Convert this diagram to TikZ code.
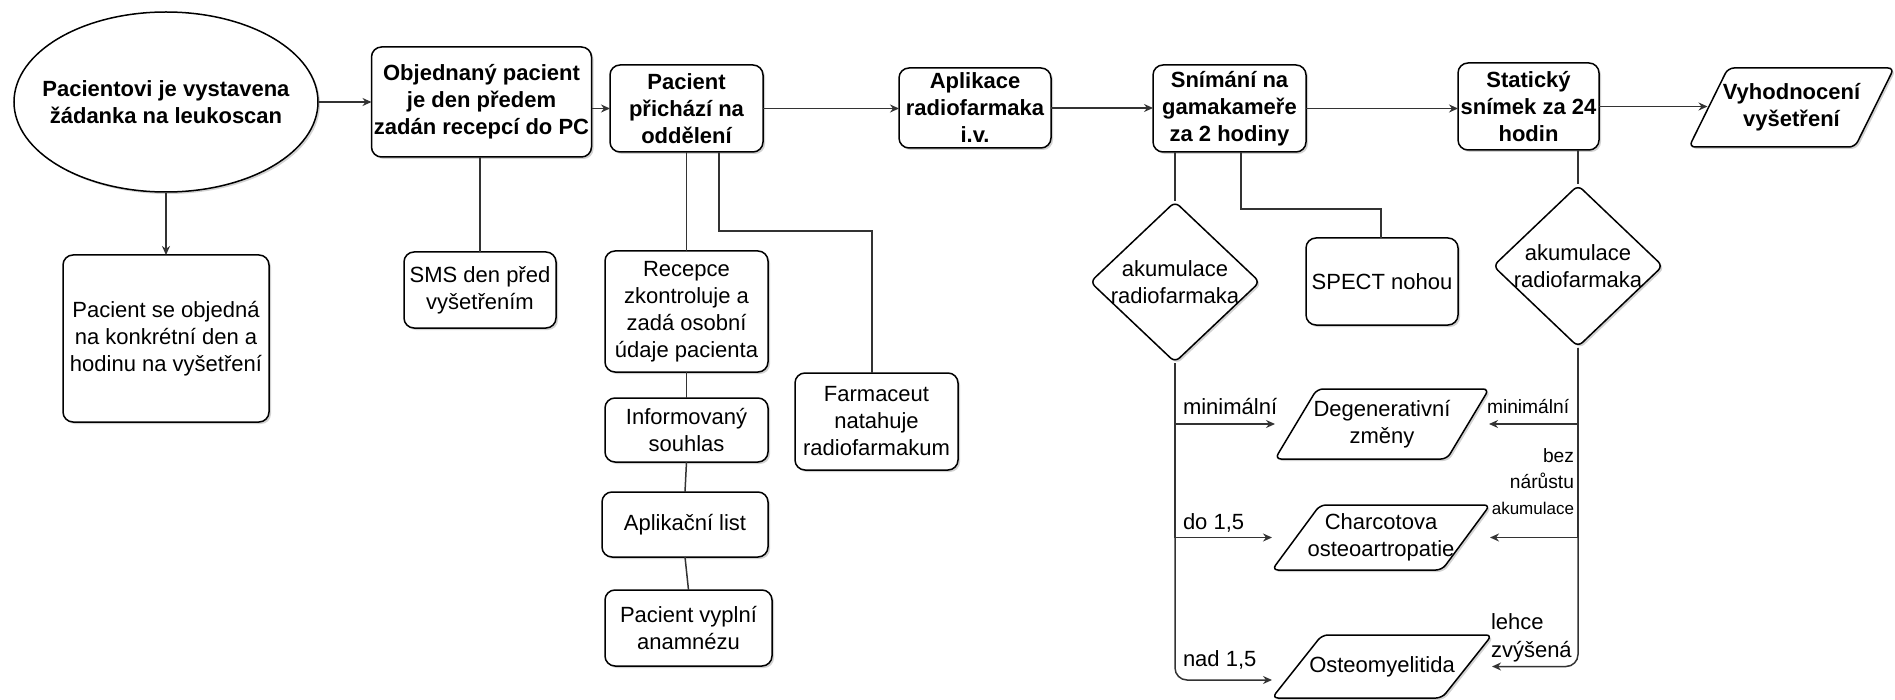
\documentclass[tikz,border=0pt]{standalone}
\usepackage{fontspec}
\setmainfont{Liberation Sans}
\usetikzlibrary{arrows.meta,calc,shadows,shapes.geometric}
\tikzset{
  wh/.style 2 args={minimum width=#1*0.5pt, minimum height=#2*0.5pt},
}
\begin{document}
\begin{tikzpicture}[x=0.5pt,y=-0.5pt,
  txt/.style={font=\fontsize{11}{13.5}\selectfont, align=center, inner sep=0pt, outer sep=0pt},
  bold/.style={txt, font=\fontsize{11}{13.5}\selectfont\bfseries},
  dshadow/.style={drop shadow={shadow xshift=1pt, shadow yshift=-1pt, opacity=0.25, fill=black!70}},
  box/.style={txt, draw=black, line width=0.75pt, fill=white, rounded corners=5pt, dshadow},
  bbox/.style={box, font=\fontsize{11}{13.5}\selectfont\bfseries},
  shp/.style={draw=black, line width=0.75pt, fill=white, rounded corners=3pt, dshadow},
  con/.style={draw=black!80, line width=0.75pt},
  arr/.style={con, -{Stealth[length=4.5pt, width=4pt]}}
]
\useasboundingbox (0,0) rectangle (1895,700);

% top row
\node[ellipse, shp, wh={304}{180}, inner sep=0pt,
  label={[bold]center:Pacientovi je vystavena\\žádanka na leukoscan}] (ell) at (166,102) {};
\node[bbox, wh={220}{110}] (obj) at (481.5,102) {Objednaný pacient\\je den předem\\zadán recepcí do PC};
\node[bbox, wh={153}{87}] (pac) at (686.5,108.5) {Pacient\\přichází na\\oddělení};
\node[bbox, wh={152}{80}] (apl) at (975,108) {Aplikace\\radiofarmaka\\i.v.};
\node[bbox, wh={153}{87}] (sni) at (1229.5,108.5) {Snímání na\\gamakameře\\za 2 hodiny};
\node[bbox, wh={141}{87}] (sta) at (1528.5,106.5) {Statický\\snímek za 24\\hodin};
\path[shp] (1689,147) -- (1728,68) -- (1894,68) -- (1855,147) -- cycle;
\node[bold, wh={206}{79}] (vyh) at (1791.5,107.5) {Vyhodnocení\\vyšetření};

% lower boxes
\node[box, wh={206}{167}] (pso) at (166,338.5) {Pacient se objedná\\na konkrétní den a\\hodinu na vyšetření};
\node[box, wh={152}{76}] (sms) at (480,290) {SMS den před\\vyšetřením};
\node[box, wh={163}{121}] (rec) at (686.5,311.5) {Recepce\\zkontroluje a\\zadá osobní\\údaje pacienta};
\node[box, wh={163}{64}] (inf) at (686.5,430) {Informovaný\\souhlas};
\node[box, wh={166}{65}] (apll) at (685,524.5) {Aplikační list};
\node[box, wh={167}{76}] (vyp) at (688.5,628) {Pacient vyplní\\anamnézu};
\node[box, wh={163}{97}] (far) at (876.5,421.5) {Farmaceut\\natahuje\\radiofarmakum};
\node[box, wh={152}{87}] (spe) at (1382,281.5) {SPECT nohou};

% decisions
\node[diamond, shp, wh={170}{161}, inner sep=0pt,
  label={[txt]center:akumulace\\radiofarmaka}] (dia1) at (1175,282) {};
\node[diamond, shp, wh={170}{162}, inner sep=0pt,
  label={[txt]center:akumulace\\radiofarmaka}] (dia2) at (1578,266) {};

% results
\path[shp] (1275,459) -- (1317,389) -- (1489,389) -- (1447,459) -- cycle;
\node[txt, wh={214}{70}] (deg) at (1382,424) {Degenerativní\\změny};
\path[shp] (1272,570) -- (1320,505) -- (1490,505) -- (1442,570) -- cycle;
\node[txt, wh={218}{65}] (cha) at (1381,537.5) {Charcotova\\osteoartropatie};
\path[shp] (1272,698) -- (1322,635) -- (1492,635) -- (1442,698) -- cycle;
\node[txt, wh={220}{63}] (ost) at (1382,666.5) {Osteomyelitida};

% connectors
\draw[arr] (ell.east) -- (obj.west);
\draw[arr] (ell.south) -- (pso.north);
\draw[con] (sms.north |- obj.south) -- (sms.north);
\draw[arr] (obj.east |- pac.west) -- (pac.west);
\draw[arr] (pac.east) -- (pac.east -| apl.west);
\draw[arr] (apl.east) -- (apl.east -| sni.west);
\draw[arr] (sni.east) -- (sni.east -| sta.west);
\draw[arr] (sta.east) -- ($(sta.east -| vyh.west)+(19,0)$);
\draw[con] (pac.south) -- (rec.north);
\draw[con] (rec.south) -- (inf.north);
\draw[con] (inf.south) -- (apll.north);
\draw[con] (apll.south) -- (vyp.north);
\coordinate (fk) at (872,231);
\draw[con] ($(pac.south)+(32.5,0)$) |- (fk) -- (fk |- far.north);
\draw[con] (sni.south -| dia1.north) -- (dia1.north);
\coordinate (sk) at (1381,209);
\draw[con] ($(sni.south)+(11.5,0)$) |- (sk) -- (sk |- spe.north);
\draw[con] (sta.south -| dia2.north) -- (dia2.north);
\draw[arr] (dia1.south) |- (deg.west);
\draw[arr] (dia1.south) |- (cha.west);
\draw[arr, rounded corners=6pt] (dia1.south) |- ($(ost.west)+(0,13.5)$);
\draw[arr] (dia2.south) |- (deg.east);
\draw[arr] (dia2.south) |- (cha.east);
\draw[arr, rounded corners=6pt] (dia2.south) |- (ost.east);

% labels
\node[txt, anchor=west] (lmin1) at (1183,407) {minimální};
\node[txt, anchor=west] (ldo) at (1183,523) {do 1,5};
\node[txt, anchor=west] (lnad) at (1183,660) {nad 1,5};
\node[txt, anchor=west, font=\fontsize{9.6}{13}\selectfont] (lmin2) at (1487,407) {minimální};
\node[txt, anchor=east, align=right, font=\fontsize{9.6}{13}\selectfont] (lbez) at (1574,482) {bez\\nárůstu\\{\fontsize{8.5}{13}\selectfont akumulace}};
\node[txt, anchor=west, align=left, font=\fontsize{11}{14}\selectfont] (lleh) at (1491,638) {lehce\\zvýšená};
\end{tikzpicture}
\end{document}
